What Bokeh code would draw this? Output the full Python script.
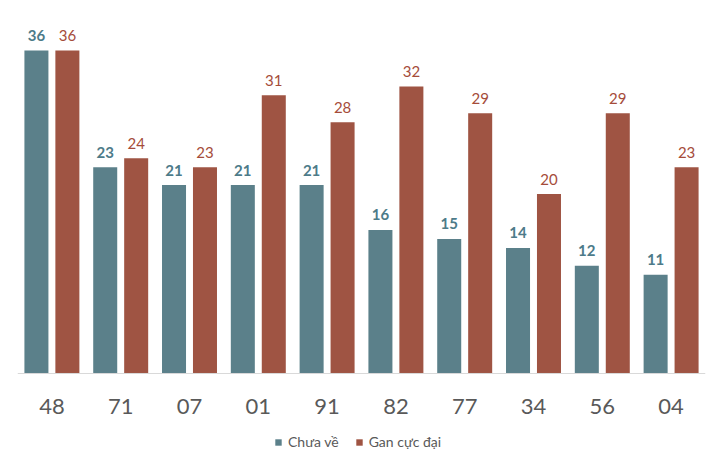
from bokeh.plotting import figure
from bokeh.models import ColumnDataSource, FactorRange, Range1d, Legend, LegendItem, Span
from bokeh.transform import dodge
from bokeh.core.properties import value
from bokeh.embed import file_html
from bokeh.resources import INLINE

categories = ["48", "71", "07", "01", "91", "82", "77", "34", "56", "04"]
chua_ve = [36, 23, 21, 21, 21, 16, 15, 14, 12, 11]
gan_cuc_dai = [36, 24, 23, 31, 28, 32, 29, 20, 29, 23]
series_names = ["Chưa về", "Gan cực đại"]

BLUE = "#5b808a"
RED = "#9f5443"
BLUE_TXT = "#4d7b89"
RED_TXT = "#a54c3a"

src = ColumnDataSource(dict(
    cat=categories,
    a=chua_ve,
    b=gan_cuc_dai,
    a_txt=[str(v) for v in chua_ve],
    b_txt=[str(v) for v in gan_cuc_dai],
    zero=[0] * len(categories),
))

p = figure(
    x_range=FactorRange(*categories, range_padding=0),
    y_range=Range1d(-9.14, 39.9),
    frame_width=688, frame_height=440,
    min_border_left=17, min_border_top=15, min_border_right=4, min_border_bottom=0,
    output_backend="svg", toolbar_location=None,
)
p.outline_line_color = None
p.xgrid.grid_line_color = None
p.ygrid.grid_line_color = None
p.yaxis.visible = False
p.xaxis.visible = False

p.add_layout(Span(location=0, dimension="width", line_color="#d9d9d9", line_width=1))

r1 = p.vbar(x=dodge("cat", -0.225, range=p.x_range), top="a", bottom=0, width=0.349,
            source=src, fill_color=BLUE, line_color=None)
r2 = p.vbar(x=dodge("cat", 0.225, range=p.x_range), top="b", bottom=0, width=0.349,
            source=src, fill_color=RED, line_color=None)

p.text(x=dodge("cat", -0.225, range=p.x_range), y="a", text="a_txt", source=src,
       text_align="center", text_baseline="alphabetic", y_offset=-15,
       text_font=value("Lato"), text_font_size="15px", text_font_style="bold",
       text_color=BLUE_TXT)
p.text(x=dodge("cat", 0.225, range=p.x_range), y="b", text="b_txt", source=src,
       text_align="center", text_baseline="alphabetic", y_offset=-15,
       text_font=value("Lato"), text_font_size="15px",
       text_color=RED_TXT)

# category tick labels
p.text(x="cat", y="zero", text="cat", source=src,
       text_align="center", text_baseline="middle", y_offset=33,
       text_font=value("Lato"), text_font_size="22px", text_color="#595959")

legend = Legend(items=[LegendItem(label=series_names[0], renderers=[r1]),
                       LegendItem(label=series_names[1], renderers=[r2])],
                orientation="horizontal", location=(257, 5),
                glyph_width=8, glyph_height=8, label_standoff=6, spacing=16,
                label_text_font="Lato", label_text_font_size="14px",
                label_text_color="#595959", border_line_color=None,
                background_fill_alpha=0, padding=0, margin=0)
p.add_layout(legend, "center")

open("out.html", "w").write(file_html(p, INLINE))
